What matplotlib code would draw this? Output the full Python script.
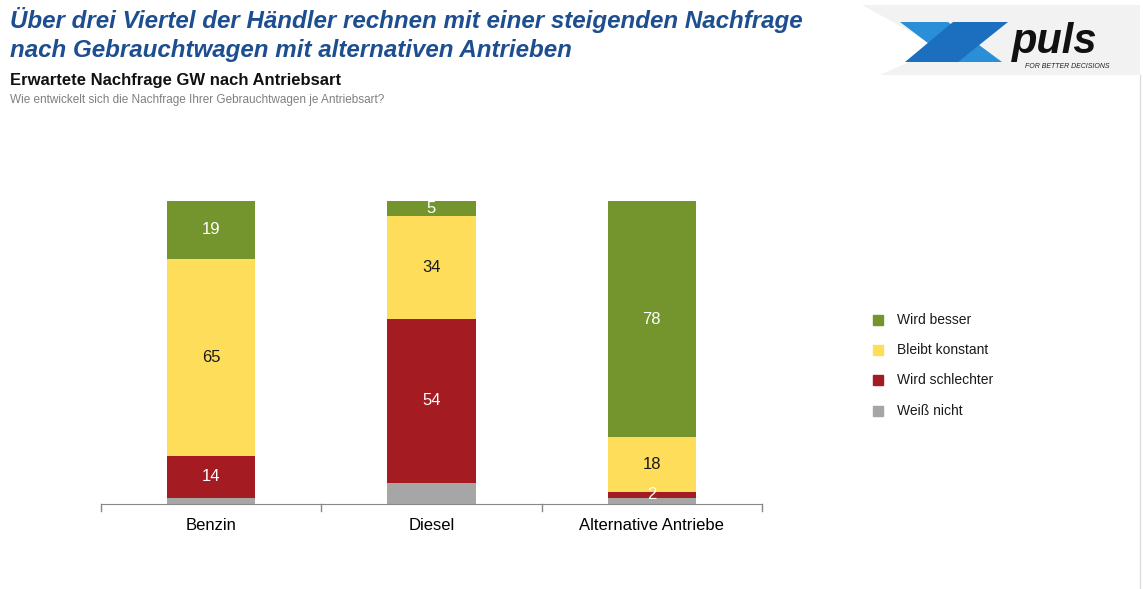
import matplotlib
matplotlib.use("Agg")
import matplotlib.pyplot as plt
from matplotlib.patches import Polygon
import numpy as np

plt.rcParams['font.family'] = ['Liberation Sans', 'DejaVu Sans']

categories = ["Benzin", "Diesel", "Alternative Antriebe"]
series_names = ["Wird besser", "Bleibt konstant", "Wird schlechter", "Weiß nicht"]
weiss_nicht = [2, 7, 2]
wird_schlechter = [14, 54, 2]
bleibt_konstant = [65, 34, 18]
wird_besser = [19, 5, 78]
colors = {"Wird besser": "#74952D", "Bleibt konstant": "#FDDD5A",
          "Wird schlechter": "#A41B22", "Weiß nicht": "#A6A6A6"}
text_colors = {"Wird besser": "white", "Bleibt konstant": "#1a1a1a",
               "Wird schlechter": "white", "Weiß nicht": "white"}

W, H = 1143, 589
fig = plt.figure(figsize=(W/100, H/100), dpi=100)
ax = fig.add_axes([101/W, (H-504)/H, (762-101)/W, (504-201)/H])

x = np.arange(len(categories))
stack = [("Weiß nicht", weiss_nicht), ("Wird schlechter", wird_schlechter),
         ("Bleibt konstant", bleibt_konstant), ("Wird besser", wird_besser)]
bottom = np.zeros(len(categories))
for name, vals in stack:
    vals = np.array(vals, dtype=float)
    ax.bar(x, vals, bottom=bottom, width=0.4, color=colors[name], label=name)
    if name != "Weiß nicht":
        for xi, b, v in zip(x, bottom, vals):
            ax.text(xi, b + v/2, f"{int(v)}", ha="center", va="center",
                    fontsize=12, color=text_colors[name])
    bottom += vals

ax.set_xlim(-0.5, len(categories)-0.5)
ax.set_ylim(0, 100)
for s in ["top", "right", "left"]:
    ax.spines[s].set_visible(False)
ax.spines["bottom"].set_color("#888888")
ax.set_yticks([])
ax.set_xticks(x)
ax.set_xticklabels(categories, fontsize=12)
ax.tick_params(axis="x", length=0, pad=10)
for tx in [-0.5, 0.5, 1.5, 2.5]:
    ax.plot([tx, tx], [0, -2.2], color="#888888", lw=1, clip_on=False)

# legend
leg_items = ["Wird besser", "Bleibt konstant", "Wird schlechter", "Weiß nicht"]
leg_y = [320, 350, 380, 411]
for name, yy in zip(leg_items, leg_y):
    fig.patches.append(matplotlib.patches.Rectangle(((873)/W, (H-yy-5)/H), 10/W, 10/H,
                       transform=fig.transFigure, color=colors[name]))
    fig.text(897/W, (H-yy)/H, name, fontsize=10, va="center", ha="left", color="#1a1a1a")

# titles
fig.text(10/W, (H-20)/H, "Über drei Viertel der Händler rechnen mit einer steigenden Nachfrage",
         fontsize=17.4, fontweight="bold", fontstyle="italic", color="#1D4E8F", va="center")
fig.text(10/W, (H-50)/H, "nach Gebrauchtwagen mit alternativen Antrieben",
         fontsize=17.4, fontweight="bold", fontstyle="italic", color="#1D4E8F", va="center")
fig.text(10/W, (H-81)/H, "Erwartete Nachfrage GW nach Antriebsart",
         fontsize=12, fontweight="bold", color="#111111", va="center")
fig.text(10/W, (H-100)/H, "Wie entwickelt sich die Nachfrage Ihrer Gebrauchtwagen je Antriebsart?",
         fontsize=8.5, color="#808080", va="center")

# logo
def fp(pts):
    return [(px/W, (H-py)/H) for px, py in pts]
fig.patches.append(Polygon(fp([(862, 5), (1140, 5), (1140, 75), (880, 75), (940, 48)]),
                           closed=True, transform=fig.transFigure, facecolor="#F2F2F2", edgecolor="none"))
fig.patches.append(Polygon(fp([(900, 22), (948, 22), (1002, 62), (953, 62)]), closed=True,
                           transform=fig.transFigure, facecolor="#2B8FD8", edgecolor="none"))
fig.patches.append(Polygon(fp([(953, 22), (1008, 22), (958, 62), (905, 62)]), closed=True,
                           transform=fig.transFigure, facecolor="#1C6FBF", edgecolor="none"))
fig.text(1012/W, (H-42)/H, "puls", fontsize=30, fontweight="bold", fontstyle="italic",
         color="#111111", va="center", ha="left")
fig.text(1025/W, (H-66)/H, "FOR BETTER DECISIONS", fontsize=5, color="#222222",
         va="center", ha="left", fontstyle="italic")
fig.add_artist(matplotlib.lines.Line2D([1140/W, 1140/W], [0, (H-75)/H], color="#DDDDDD", lw=1,
                                       transform=fig.transFigure))

fig.savefig("out.png", dpi=100)
